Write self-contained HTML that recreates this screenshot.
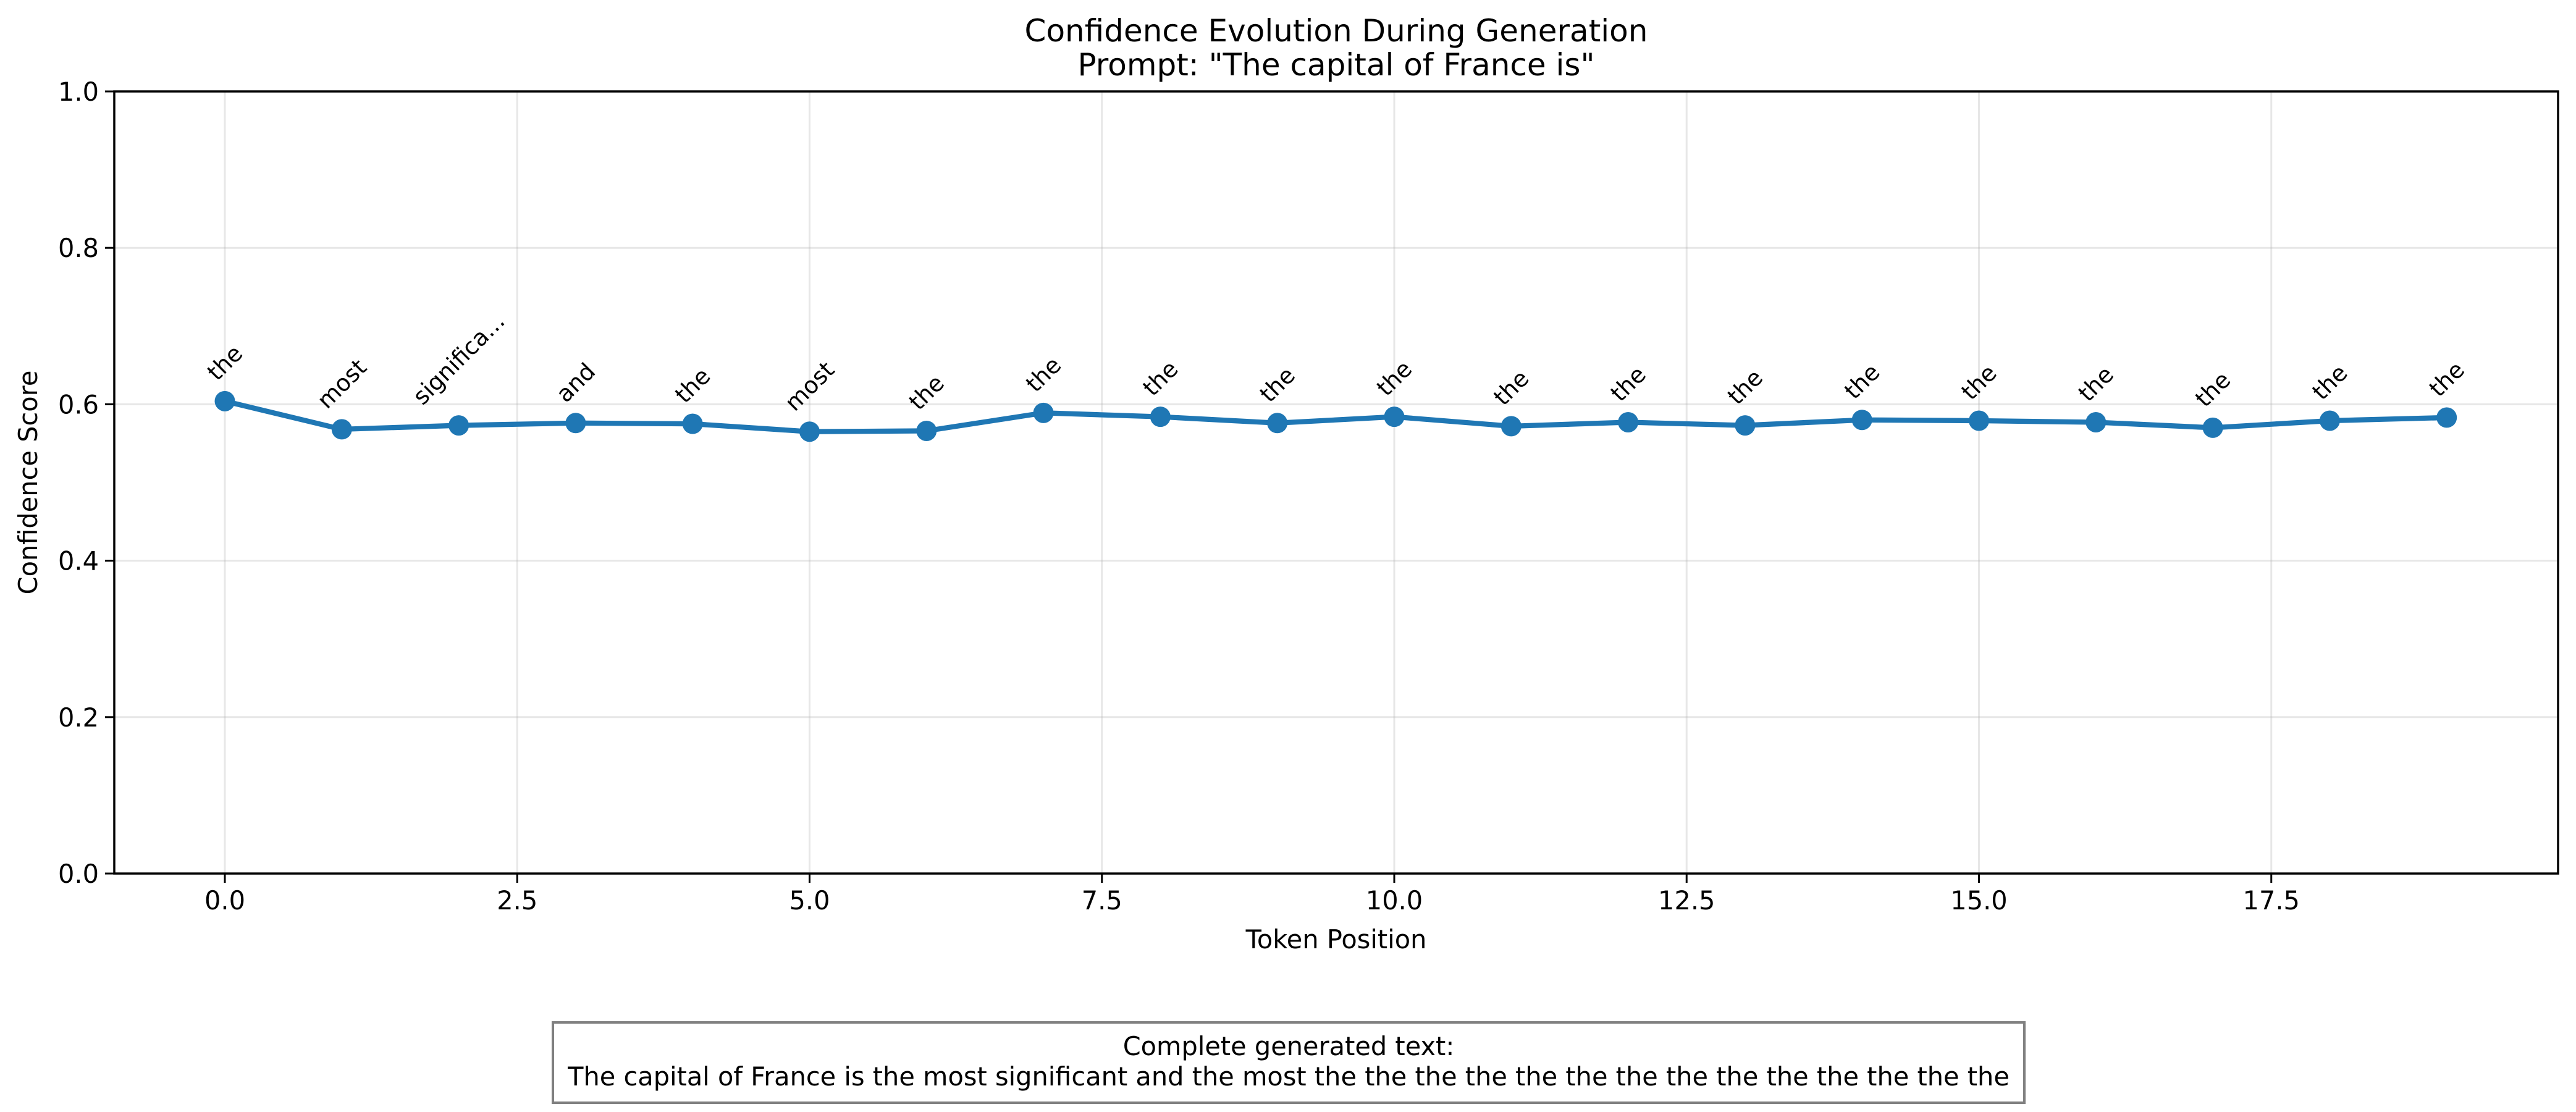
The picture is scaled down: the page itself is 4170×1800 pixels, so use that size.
<!DOCTYPE html>
<html><head><meta charset="utf-8"><style>
html,body{margin:0;padding:0;background:#fff;}
svg text{font-family:"DejaVu Sans","Liberation Sans",sans-serif;fill:#000;}
</style></head><body>
<svg id="chart" width="4170" height="1795" viewBox="0 0 4170 1795" xmlns="http://www.w3.org/2000/svg">
<rect width="4170" height="1795" fill="#fff"/>
<text x="2163" y="67" font-size="50" text-anchor="middle">Confidence Evolution During Generation</text>
<text x="2163" y="122" font-size="50" text-anchor="middle">Prompt: "The capital of France is"</text>
<g id="grid"></g>
<g id="axes"></g>
<g id="series"></g>
<g id="labels"></g>
<text x="2163" y="1535" font-size="41.5" text-anchor="middle">Token Position</text>
<text transform="translate(60,781) rotate(-90)" font-size="41.5" text-anchor="middle">Confidence Score</text>
<rect x="895" y="1655" width="2382" height="130" fill="#fff" stroke="#808080" stroke-width="4"/>
<text x="2086" y="1708" font-size="41.5" text-anchor="middle">Complete generated text:</text>
<text x="2086" y="1757" font-size="41.5" text-anchor="middle">The capital of France is the most significant and the most the the the the the the the the the the the the the the</text>
</svg>
<script>
const positions = [0,1,2,3,4,5,6,7,8,9,10,11,12,13,14,15,16,17,18,19];
const confidences = [0.604,0.568,0.573,0.576,0.575,0.565,0.566,0.589,0.584,0.576,0.584,0.572,0.577,0.573,0.580,0.579,0.577,0.570,0.579,0.583];
const tokens = ["the","most","significa...","and","the","most","the","the","the","the","the","the","the","the","the","the","the","the","the","the"];
const xTicks = [0.0,2.5,5.0,7.5,10.0,12.5,15.0,17.5];
const yTicks = [0.0,0.2,0.4,0.6,0.8,1.0];

const L=185,R=4141,T=148,B=1414;
const X0=364,XU=189.3;
function xs(v){return X0+v*XU;}
function ys(v){return B-(B-T)*v;}
const NS="http://www.w3.org/2000/svg";
function mk(parent,tag,attrs){const e=document.createElementNS(NS,tag);for(const k in attrs)e.setAttribute(k,attrs[k]);document.getElementById(parent).appendChild(e);return e;}

xTicks.forEach(t=>{
  const g=mk('grid','line',{x1:xs(t),x2:xs(t),y1:T,y2:B,stroke:'#b0b0b0','stroke-opacity':0.3,'stroke-width':3});
  
  
  const tk=mk('axes','line',{x1:xs(t),x2:xs(t),y1:B,y2:B+15,stroke:'#000','stroke-width':3});
  
  
  const lb=mk('axes','text',{x:xs(t),y:B+58,'font-size':41.5,'text-anchor':'middle'});
  lb.textContent=t.toFixed(1);
  
  
});
yTicks.forEach(t=>{
  const g=mk('grid','line',{x1:L,x2:R,y1:ys(t),y2:ys(t),stroke:'#b0b0b0','stroke-opacity':0.3,'stroke-width':3});
  
  
  const tk=mk('axes','line',{x1:L-15,x2:L,y1:ys(t),y2:ys(t),stroke:'#000','stroke-width':3});
  
  
  const lb=mk('axes','text',{x:L-25,y:ys(t)+15,'font-size':41.5,'text-anchor':'end'});
  lb.textContent=t.toFixed(1);
  
  
});
const frame=mk('axes','rect',{x:L,y:T,width:R-L,height:B-T,fill:'none',stroke:'#000','stroke-width':3.5});



const pts=positions.map((p,i)=>xs(p)+','+ys(confidences[i])).join(' ');
const line=mk('series','polyline',{points:pts,fill:'none',stroke:'#1f77b4','stroke-width':8.3,'stroke-linejoin':'round'});


positions.forEach((p,i)=>{
  const c=mk('series','circle',{cx:xs(p),cy:ys(confidences[i]),r:16.5,fill:'#1f77b4'});
  
  
  const px=xs(p),py=ys(confidences[i]);
  const t=mk('labels','text',{'font-size':37.5,'text-anchor':'middle','dominant-baseline':'central'});
  t.textContent=tokens[i];
  
  
  const w=t.getComputedTextLength(),h=30;
  const cy=py-30-(w+h)/2.83;
  t.setAttribute('x',px);t.setAttribute('y',cy);
  t.setAttribute('transform','rotate(-45 '+px+' '+cy+')');
});
</script>
</body></html>
